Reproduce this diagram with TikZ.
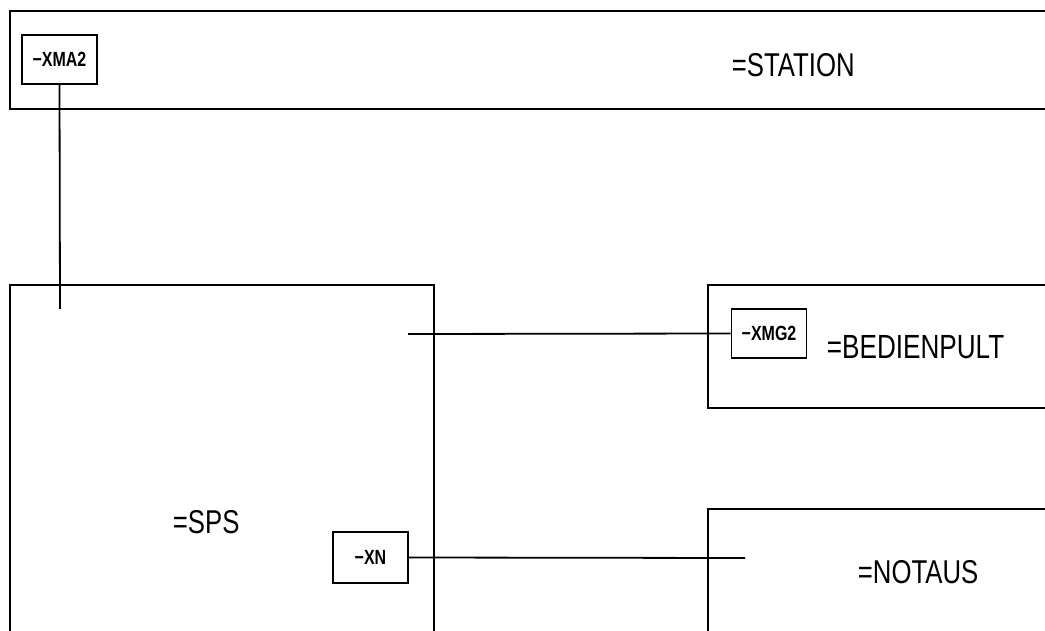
\documentclass[tikz,border=0pt]{standalone}
\usepackage{fontspec}
\setmainfont[FakeStretch=0.78]{Liberation Sans}
\begin{document}
\begin{tikzpicture}[x=1pt,y=-1pt,line width=1.8pt,
  blockbox/.style={draw,rectangle,inner sep=0pt,anchor=north west},
  smallbox/.style={draw,rectangle,inner sep=0pt,minimum width=75pt,minimum height=49pt,font=\fontsize{20.5}{20.5}\selectfont\bfseries},
  biglabel/.style={inner sep=0pt,anchor=base west},
  wire/.style={line width=1.8pt}]
\useasboundingbox (0,0) rectangle (1045,631);
\clip (0,0) rectangle (1045,631);
% blocks
\node[blockbox,minimum width=1060pt,minimum height=98pt] (station) at (9,10) {};
\node[blockbox,minimum width=424pt,minimum height=400pt] (sps) at (9,284) {};
\node[blockbox,minimum width=400pt,minimum height=123pt] (bedien) at (707,284) {};
\node[blockbox,minimum width=400pt,minimum height=200pt] (notaus) at (707,508) {};
% labels
\node[biglabel,font=\fontsize{33}{33}\selectfont] (tstation) at (731,77) {=STATION};
\node[biglabel,font=\fontsize{33.5}{33.5}\selectfont] (tbedien) at (826,358) {=BEDIENPULT};
\node[biglabel,font=\fontsize{33}{33}\selectfont] (tsps) at (172,533) {=SPS};
\node[biglabel,font=\fontsize{33}{33}\selectfont] (tnotaus) at (857,583) {=NOTAUS};
% connector boxes
\node[smallbox] (xma2) at (59.5,59.5) {−XMA2};
\node[smallbox] (xmg2) at (769,333.5) {−XMG2};
\node[smallbox,minimum height=51pt] (xn) at (370.5,557.5) {−XN};
% wire ends
\coordinate (e1) at (60,309);
\coordinate (e2) at (408,334);
\coordinate (e3) at (745,558);
\draw[wire] (xma2.south) -- (e1);
\draw[wire] (e2) -- (xmg2.west);
\draw[wire] (xn.east) -- (e3);
\end{tikzpicture}
\end{document}
